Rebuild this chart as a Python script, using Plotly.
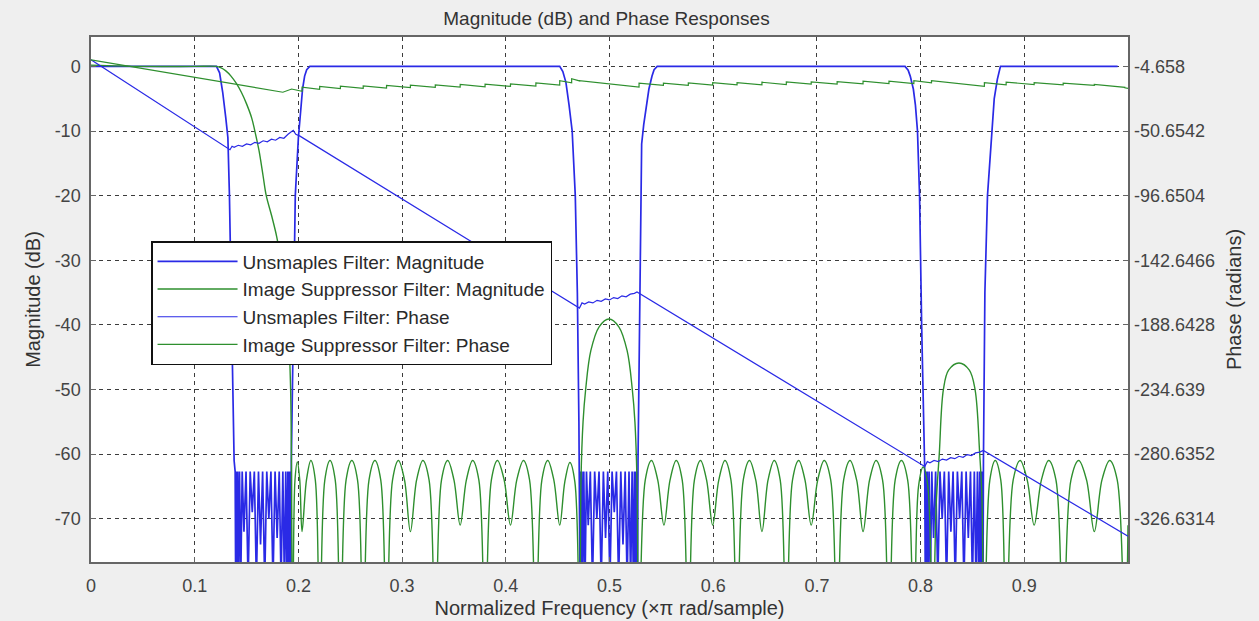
import plotly.graph_objects as go

# ---------------- Upsampled filter: magnitude (dB) ----------------
ups_pass1_x = [0.0, 0.121, 0.124, 0.127, 0.130, 0.132, 0.1335, 0.135, 0.137, 0.138, 0.139]
ups_pass1_y = [0.0, 0.0, -1.0, -4.0, -8.0, -11.0, -20.0, -35.0, -50.0, -61.0, -62.7]

ups_stop1_x = [0.1395, 0.1401, 0.1407, 0.1414, 0.1422, 0.1432, 0.1444, 0.1458, 0.1475, 0.1495,
               0.1515, 0.1535, 0.1555, 0.1575, 0.1595, 0.1615, 0.1635, 0.1655, 0.1675, 0.1695,
               0.1715, 0.1735, 0.1755, 0.1775, 0.1795, 0.1815, 0.1833, 0.1850, 0.1865, 0.1878,
               0.1889, 0.1898, 0.1906, 0.1913, 0.1919, 0.1924]
ups_stop1_y = [-80, -62.7, -80, -62.7, -80, -62.7, -80, -62.7, -72, -62.7,
               -80, -62.7, -69, -62.7, -80, -62.7, -74, -62.7, -80, -62.7,
               -70, -62.7, -80, -62.7, -73, -62.7, -80, -62.7, -80, -62.7,
               -80, -62.7, -80, -62.7, -80, -62.7]

ups_edge1_x = [0.1927, 0.1932, 0.195, 0.197, 0.200, 0.202, 0.204, 0.206, 0.208, 0.211,
               0.452, 0.455, 0.458, 0.461, 0.464, 0.467, 0.469, 0.4705, 0.471]
ups_edge1_y = [-80, -61, -40, -20, -11, -7, -3.5, -1.5, -0.5, 0.0,
               0.0, -0.8, -2.5, -6, -10, -20, -35, -55, -62.7]

ups_stop2_x = [0.4715, 0.4721, 0.4727, 0.4734, 0.4742, 0.4752, 0.4764, 0.4778, 0.4795, 0.4815,
               0.4836, 0.4857, 0.4878, 0.4899, 0.4920, 0.4941, 0.4962, 0.4983, 0.5004, 0.5025,
               0.5046, 0.5067, 0.5088, 0.5109, 0.5130, 0.5151, 0.5170, 0.5188, 0.5204, 0.5218,
               0.5230, 0.5240, 0.5249, 0.5256, 0.5262, 0.5267]
ups_stop2_y = [-80, -62.7, -80, -62.7, -80, -62.7, -80, -62.7, -71, -62.7,
               -80, -62.7, -70, -62.7, -80, -62.7, -73, -62.7, -80, -62.7,
               -69, -62.7, -80, -62.7, -74, -62.7, -80, -62.7, -80, -62.7,
               -80, -62.7, -80, -62.7, -80, -62.7]

ups_edge2_x = [0.527, 0.5275, 0.529, 0.530, 0.531, 0.533, 0.5355, 0.538, 0.541, 0.543, 0.546,
               0.785, 0.788, 0.790, 0.793, 0.795, 0.797, 0.799, 0.801, 0.803, 0.804]
ups_edge2_y = [-80, -61, -40, -22, -12, -9, -6, -3.5, -1.5, -0.5, 0.0,
               0.0, -0.6, -1.5, -3.5, -6, -10, -20, -40, -55, -62.7]

ups_stop3_x = [0.8045, 0.8051, 0.8057, 0.8064, 0.8072, 0.8082, 0.8094, 0.8108, 0.8125, 0.8145,
               0.8166, 0.8187, 0.8208, 0.8229, 0.8250, 0.8271, 0.8292, 0.8313, 0.8334, 0.8355,
               0.8376, 0.8397, 0.8418, 0.8439, 0.8460, 0.8481, 0.8500, 0.8518, 0.8534, 0.8548,
               0.8560, 0.8570, 0.8579, 0.8587, 0.8593, 0.8598]
ups_stop3_y = [-80, -62.7, -80, -62.7, -80, -62.7, -80, -62.7, -73, -62.7,
               -80, -62.7, -70, -62.7, -80, -62.7, -72, -62.7, -80, -62.7,
               -70, -62.7, -80, -62.7, -73, -62.7, -80, -62.7, -80, -62.7,
               -80, -62.7, -80, -62.7, -80, -62.7]

ups_edge3_x = [0.8602, 0.8606, 0.862, 0.8645, 0.8685, 0.871, 0.874, 0.877, 0.990]
ups_edge3_y = [-80, -61, -35, -20, -10, -5, -2, 0.0, 0.0]

# ---------------- Image suppressor filter: magnitude (dB) ----------------
isf_pass_x = [0.0, 0.05, 0.10, 0.121, 0.125, 0.130, 0.135, 0.140, 0.145, 0.150, 0.155, 0.158,
              0.162, 0.166, 0.169, 0.174, 0.179, 0.183, 0.187, 0.190, 0.1925]
isf_pass_y = [0.2, 0.0, 0.0, 0.0, -0.2, -0.7, -1.5, -2.6, -4.0, -5.8, -8.0, -10.0,
              -13.0, -17.0, -20.0, -23.0, -26.3, -30.0, -35.0, -40.0, -50.0]

# sidelobes: null, shoulder, peak, shoulder, null ...
isf_stop1_x = [0.1945, 0.1967, 0.199, 0.2013, 0.2035, 0.2078, 0.212, 0.2163, 0.2205, 0.2255,
               0.2305, 0.2355, 0.2405, 0.246, 0.2515, 0.257, 0.2625, 0.2681, 0.2738, 0.2794,
               0.285, 0.2908, 0.2965, 0.3023, 0.308, 0.314, 0.320, 0.326, 0.332, 0.338,
               0.344, 0.350, 0.356, 0.362, 0.368, 0.374, 0.380, 0.3861, 0.392, 0.3984,
               0.4045, 0.4106, 0.417, 0.4229, 0.429, 0.4348, 0.4405, 0.4463, 0.452, 0.4569,
               0.4618, 0.4666, 0.4712]
isf_stop1_y = [-90, -64, -61.2, -64, -72, -64, -61, -64, -90, -64,
               -61, -64, -90, -64, -61, -64, -90, -64, -61, -64,
               -90, -64, -61, -64, -72, -64, -61, -64, -90, -64,
               -61, -64, -71, -64, -61, -64, -90, -64, -61, -64,
               -71, -64, -61, -64, -90, -64, -61, -64, -71, -64.3,
               -61.3, -64.3, -90]

isf_lobe2_x = [0.4725, 0.4745, 0.477, 0.482, 0.490, 0.4995, 0.509, 0.517, 0.522, 0.5245, 0.5265]
isf_lobe2_y = [-64, -55, -50, -44, -40.3, -39.1, -40.3, -44, -50, -55, -64]

isf_stop2_x = [0.5285, 0.5345, 0.5405, 0.5465, 0.5525, 0.5584, 0.5643, 0.5701, 0.576, 0.5819,
               0.5878, 0.5936, 0.5995, 0.6054, 0.6113, 0.6171, 0.623, 0.629, 0.635, 0.641,
               0.647, 0.6529, 0.6588, 0.6646, 0.6705, 0.6765, 0.6825, 0.6885, 0.6945, 0.7008,
               0.707, 0.7133, 0.7195, 0.7258, 0.732, 0.7383, 0.7445, 0.7508, 0.757, 0.7633,
               0.7695, 0.7755, 0.7815, 0.7875, 0.7935, 0.798, 0.8025, 0.807, 0.8115]
isf_stop2_y = [-90, -64, -61, -64, -71, -64, -61, -64, -90, -64,
               -61, -64, -71, -64, -61, -64, -90, -64, -61, -64,
               -72, -64, -61, -64, -90, -64, -61, -64, -71, -64,
               -61, -64, -90, -64, -61, -64, -72, -64, -61, -64,
               -90, -64, -61, -64, -90, -65, -62, -65, -90]

isf_lobe3_x = [0.815, 0.818, 0.822, 0.827, 0.837, 0.847, 0.8525, 0.857, 0.859]
isf_lobe3_y = [-68, -60, -50, -47, -45.9, -47, -50, -60, -66]

isf_stop3_x = [0.8615, 0.8668, 0.872, 0.8773, 0.8825, 0.8893, 0.896, 0.9028, 0.9095, 0.9165,
               0.9235, 0.9305, 0.9375, 0.945, 0.9525, 0.96, 0.9675, 0.9749, 0.9823, 0.9896,
               0.997, 1.0]
isf_stop3_y = [-90, -64, -61, -64, -90, -64, -61, -64, -71, -64,
               -61, -64, -90, -64, -61, -64, -72, -64, -61, -64,
               -90, -71]

# ---------------- Upsampled filter: phase (radians) ----------------
ups_phase_x = [0.0, 0.134, 0.136, 0.138, 0.142, 0.146, 0.150, 0.154, 0.158, 0.162, 0.166, 0.170,
               0.174, 0.178, 0.182, 0.186, 0.190, 0.193, 0.195, 0.1975, 0.2015,
               0.471, 0.4735, 0.476, 0.480, 0.484, 0.488, 0.492, 0.496, 0.500, 0.504, 0.508,
               0.512, 0.516, 0.520, 0.524, 0.5265,
               0.804, 0.8065, 0.809, 0.813, 0.817, 0.821, 0.825, 0.829, 0.833, 0.837, 0.841,
               0.845, 0.849, 0.853, 0.857, 0.8605, 1.0]
ups_phase_y = [0.0, -64.0, -61.5, -62.3, -60.8, -61.5, -59.8, -60.5, -58.7, -59.4, -57.6, -58.3,
               -56.5, -57.2, -55.2, -55.8, -53.0, -51.5, -50.2, -53.0, -54.3,
               -176.7, -173.0, -173.8, -172.3, -173.0, -171.2, -171.9, -170.2, -170.9, -169.2, -169.9,
               -168.0, -168.7, -166.8, -166.2, -165.2,
               -289.4, -286.0, -286.8, -285.2, -285.9, -284.2, -284.9, -283.2, -283.9, -282.2, -282.9,
               -281.0, -281.7, -279.8, -279.2, -278.0, -339.1]

# ---------------- Image suppressor filter: phase (radians) ----------------
isf_phase_pass_x = [0.0, 0.185]
isf_phase_pass_y = [0.0, -23.06]
isf_phase_step_x = [0.1935, 0.2035, 0.2205, 0.2405, 0.2625, 0.285, 0.308, 0.332, 0.356, 0.380,
                    0.4045, 0.429, 0.452, 0.4635, 0.4710, 0.5285, 0.552, 0.576, 0.5995, 0.623,
                    0.647, 0.6705, 0.6945, 0.7195, 0.7445, 0.7695, 0.7935, 0.8105, 0.8615, 0.8825,
                    0.9095, 0.9375, 0.9675, 0.997]
isf_phase_step_end = isf_phase_step_x[1:] + [1.0]
isf_phase_high = [-20.76, -19.38, -18.92, -18.69, -18.46, -18.23, -18.00, -17.77, -17.54, -17.31,
                  -17.08, -16.39, -14.78, -13.40, -14.78, -16.62, -16.62, -16.39, -16.16, -16.16,
                  -15.93, -15.70, -15.70, -15.47, -15.24, -15.24, -14.78, -14.78, -16.16, -15.93,
                  -16.16, -16.62, -17.54, -19.84]
isf_phase_low = [-22.36, -20.98, -20.52, -20.29, -20.06, -19.83, -19.60, -19.37, -19.14, -18.91,
                 -18.68, -17.99, -16.38, -15.00, -19.38, -18.22, -18.22, -17.99, -17.76, -17.76,
                 -17.53, -17.30, -17.30, -17.07, -16.84, -16.84, -16.38, -18.92, -17.76, -17.53,
                 -17.76, -18.22, -19.61, -20.30]

# Axis ticks
x_ticks = [0, 0.1, 0.2, 0.3, 0.4, 0.5, 0.6, 0.7, 0.8, 0.9]
x_ticktext = ["0", "0.1", "0.2", "0.3", "0.4", "0.5", "0.6", "0.7", "0.8", "0.9"]
mag_ticks = [0, -10, -20, -30, -40, -50, -60, -70]
mag_ticktext = ["0", "-10", "-20", "-30", "-40", "-50", "-60", "-70"]
phase_ticks = [-4.658, -50.6542, -96.6504, -142.6466, -188.6428, -234.639, -280.6352, -326.6314]
phase_ticktext = ["-4.658", "-50.6542", "-96.6504", "-142.6466", "-188.6428", "-234.639",
                  "-280.6352", "-326.6314"]
mag_range = [-76.70, 4.55]
phase_range = [-357.45, 16.27]

# ---------------- assemble ----------------
ups_mag_x = ups_pass1_x + ups_stop1_x + ups_edge1_x + ups_stop2_x + ups_edge2_x + ups_stop3_x + ups_edge3_x
ups_mag_y = ups_pass1_y + ups_stop1_y + ups_edge1_y + ups_stop2_y + ups_edge2_y + ups_stop3_y + ups_edge3_y
isf_mag_x = isf_pass_x + isf_stop1_x + isf_lobe2_x + isf_stop2_x + isf_lobe3_x + isf_stop3_x
isf_mag_y = isf_pass_y + isf_stop1_y + isf_lobe2_y + isf_stop2_y + isf_lobe3_y + isf_stop3_y

isf_ph_x = list(isf_phase_pass_x)
isf_ph_y = list(isf_phase_pass_y)
for xs, xe, hi, lo in zip(isf_phase_step_x, isf_phase_step_end, isf_phase_high, isf_phase_low):
    isf_ph_x += [xs, xe]
    isf_ph_y += [hi, lo]

BLUE = "#2a2ae6"
GREEN = "#2e8f2e"
FONT = "Liberation Sans, Arial, sans-serif"
TXT = "#333333"

fig = go.Figure()
fig.add_trace(go.Scatter(x=ups_mag_x, y=ups_mag_y, mode="lines", name="Unsmaples Filter: Magnitude",
                         line=dict(color=BLUE, width=1.7), legendgroup="a"))
fig.add_trace(go.Scatter(x=isf_mag_x, y=isf_mag_y, mode="lines", name="Image Suppressor Filter: Magnitude",
                         line=dict(color=GREEN, width=1.4, shape="spline", smoothing=1.0), legendgroup="b"))
fig.add_trace(go.Scatter(x=ups_phase_x, y=ups_phase_y, mode="lines", name="Unsmaples Filter: Phase",
                         line=dict(color=BLUE, width=1.2), yaxis="y2", legendgroup="c"))
fig.add_trace(go.Scatter(x=isf_ph_x, y=isf_ph_y, mode="lines", name="Image Suppressor Filter: Phase",
                         line=dict(color=GREEN, width=1.2), yaxis="y2", legendgroup="d"))

grid = dict(showgrid=True, gridcolor="#3c3c3c", gridwidth=1, griddash="4px,4px")

fig.update_layout(
    width=1259, height=621,
    margin=dict(l=91, r=131, t=37, b=59, autoexpand=False),
    paper_bgcolor="#efefef", plot_bgcolor="#ffffff",
    font=dict(family=FONT, size=18, color="#444444"),
    title=dict(text="Magnitude (dB) and Phase Responses", x=0.4817, xanchor="center",
               y=0.971, yanchor="middle", font=dict(size=19, color=TXT)),
    showlegend=True,
    legend=dict(x=0.0579, y=0.6114, xanchor="left", yanchor="top", bgcolor="#ffffff",
                bordercolor="#111111", borderwidth=1.5, font=dict(size=19, color="#2a2a2a"),
                tracegroupgap=0, itemwidth=80),
    xaxis=dict(range=[0, 1.0], tickvals=x_ticks, ticktext=x_ticktext, zeroline=False,
               automargin=False,
               showline=True, linecolor="#666666", linewidth=1.5, mirror=True,
               ticks="inside", ticklen=5, tickcolor="#666666", ticklabelstandoff=7,
               title=dict(text="Normalized Frequency (×π rad/sample)", standoff=6,
                          font=dict(size=20, color=TXT)),
               **grid),
    yaxis=dict(range=mag_range, tickvals=mag_ticks, ticktext=mag_ticktext, zeroline=False,
               automargin=False,
               showline=True, linecolor="#666666", linewidth=1.5, mirror=True,
               ticks="inside", ticklen=5, tickcolor="#666666", ticklabelstandoff=5,
               title=dict(text="Magnitude (dB)", standoff=9, font=dict(size=20, color=TXT)),
               **grid),
    yaxis2=dict(range=phase_range, tickvals=phase_ticks, ticktext=phase_ticktext, overlaying="y",
                automargin=False,
                side="right", showgrid=False, zeroline=False, showline=False,
                ticks="inside", ticklen=5, tickcolor="#666666", ticklabelstandoff=5,
                title=dict(text="Phase (radians)", standoff=12, font=dict(size=20, color=TXT))),
)

fig.write_html("out.html", config={"displayModeBar": False},
               post_script="document.body.style.margin='0';document.body.style.background='#efefef';")
